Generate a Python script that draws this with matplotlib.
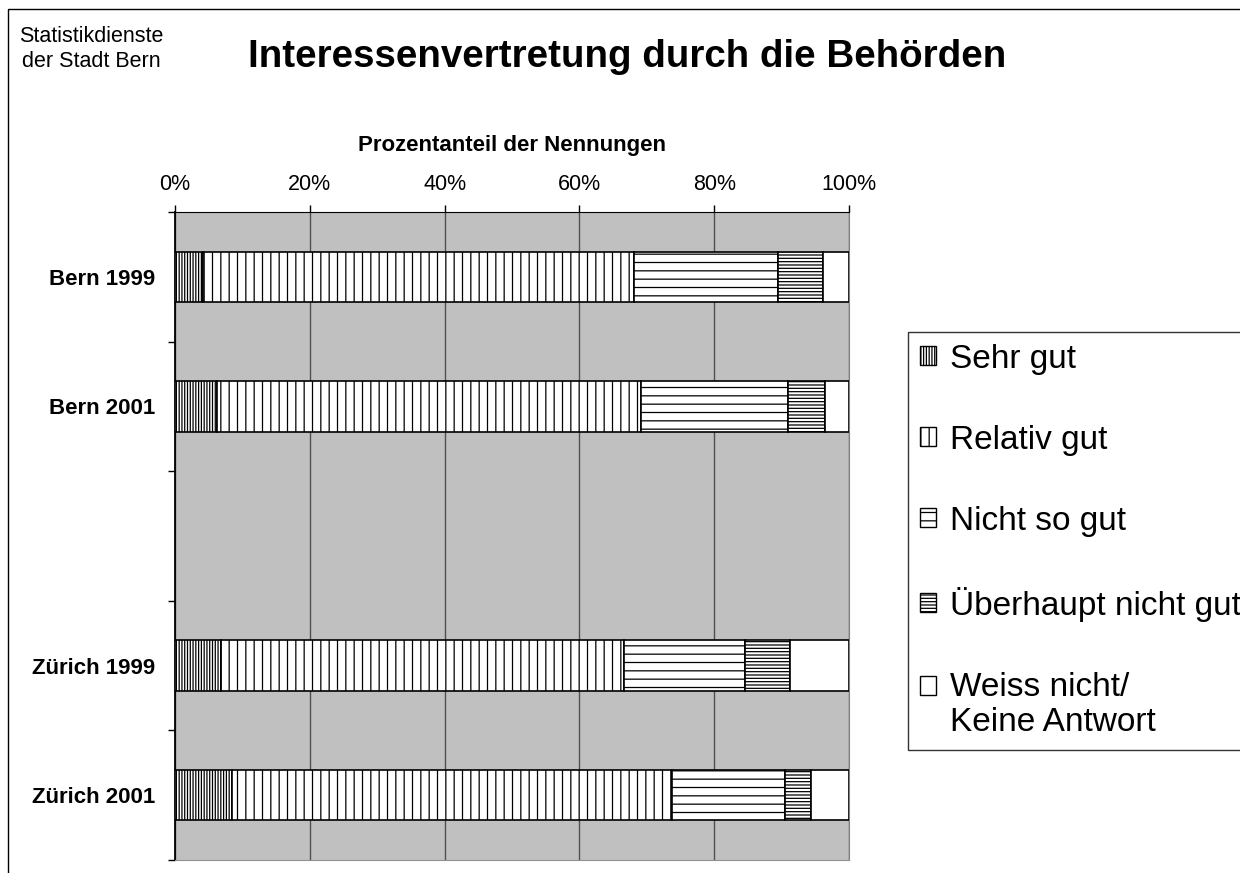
import numpy as np
import matplotlib.pyplot as plt
from matplotlib.patches import Patch, Rectangle
from matplotlib.legend_handler import HandlerPatch
from matplotlib.ticker import FuncFormatter

plt.rcParams['font.family'] = ['Liberation Sans', 'DejaVu Sans']
plt.rcParams['hatch.linewidth'] = 0.9

# -----------------------------
# data (percent of answers), empty slot between Bern and Zürich
# -----------------------------
categories = ['Bern 1999', 'Bern 2001', '', 'Zürich 1999', 'Zürich 2001']
sehr_gut     = [4.2, 6.3, np.nan, 6.8, 8.4]
relativ_gut  = [63.9, 62.9, np.nan, 59.8, 65.4]
nicht_so_gut = [21.3, 21.7, np.nan, 17.9, 16.7]
ueberhaupt   = [6.7, 5.5, np.nan, 6.7, 3.8]
weiss_nicht  = [3.9, 3.6, np.nan, 8.8, 5.7]

series_names = ['Sehr gut', 'Relativ gut', 'Nicht so gut',
                'Überhaupt nicht gut', 'Weiss nicht/\nKeine Antwort']
series_hatch = ['||||||', '||', '--', '-----', '']
x_ticks = [0, 20, 40, 60, 80, 100]

# -----------------------------
# figure
# -----------------------------
fig = plt.figure(figsize=(12.4, 8.73), dpi=100)
ax = fig.add_axes([175/1240, 1 - 860/873, (849-175)/1240, (860-212)/873])
ax.set_facecolor('#c0c0c0')

y = np.arange(len(categories))
left = np.zeros(len(categories))
values = [sehr_gut, relativ_gut, nicht_so_gut, ueberhaupt, weiss_nicht]
for vals, name, h in zip(values, series_names, series_hatch):
    vals = np.asarray(vals, float)
    ax.barh(y, vals, left=left, height=0.39, color='white', edgecolor='black',
            linewidth=1.2, hatch=h, zorder=3)
    left = left + np.nan_to_num(vals)

ax.set_xlim(0, 100)
ax.set_ylim(len(categories) - 0.5, -0.5)

# x axis on top
ax.xaxis.tick_top()
ax.xaxis.set_label_position('top')
ax.set_xticks(x_ticks)
ax.xaxis.set_major_formatter(FuncFormatter(lambda v, p: f"{v:.0f}%"))
ax.tick_params(axis='x', length=5, width=1, pad=7, labelsize=15.5, color='black')
ax.set_xlabel('Prozentanteil der Nennungen', fontsize=16, fontweight='bold', labelpad=16.5)

# y axis: labels at centers, ticks at boundaries
ax.set_yticks(y)
ax.set_yticklabels(categories, fontsize=16, fontweight='bold')
ax.set_yticks(np.arange(-0.5, len(categories)), minor=True)
ax.tick_params(axis='y', which='major', length=0, pad=14)
ax.tick_params(axis='y', which='minor', length=5, width=1, color='black')

ax.grid(axis='x', color='#505050', linewidth=1, zorder=1)
ax.set_axisbelow(True)

ax.spines['top'].set_color('black')
ax.spines['left'].set_color('black')
ax.spines['left'].set_linewidth(1.3)
ax.spines['right'].set_color('#808080')
ax.spines['bottom'].set_color('#909090')


# legend: the two-line entry keeps its box next to the first line
def first_line_patch(legend, orig_handle, xdescent, ydescent, width, height, fontsize):
    return Rectangle((-xdescent, -ydescent + 0.6 * fontsize), width, height)


handles = [Patch(facecolor='white', edgecolor='black', linewidth=1, hatch=h)
           for h in series_hatch]
leg = fig.legend(handles, series_names, loc='upper left',
                 bbox_to_anchor=(908/1240, 1 - 332/873),
                 fontsize=24, frameon=True, fancybox=False,
                 edgecolor='black', handlelength=0.5, handleheight=0.5,
                 handletextpad=0.4, labelspacing=1.5, borderpad=0.35,
                 borderaxespad=0,
                 handler_map={handles[-1]: HandlerPatch(patch_func=first_line_patch)})
leg.get_frame().set_linewidth(1)

# titles
fig.text(627/1240, 1 - 67/873, 'Interessenvertretung durch die Behörden',
         ha='center', va='baseline', fontsize=27.7, fontweight='bold')
fig.text(91/1240, 1 - 42/873, 'Statistikdienste', ha='center', va='baseline', fontsize=15.5)
fig.text(91/1240, 1 - 67/873, 'der Stadt Bern', ha='center', va='baseline', fontsize=15.5)

# outer frame (cut off at right and bottom)
fig.add_artist(Rectangle((8/1240, -0.2), 1.2, 1.2 - 9/873, transform=fig.transFigure,
                         fill=False, edgecolor='black', linewidth=1))

fig.savefig('out.png', dpi=100)
